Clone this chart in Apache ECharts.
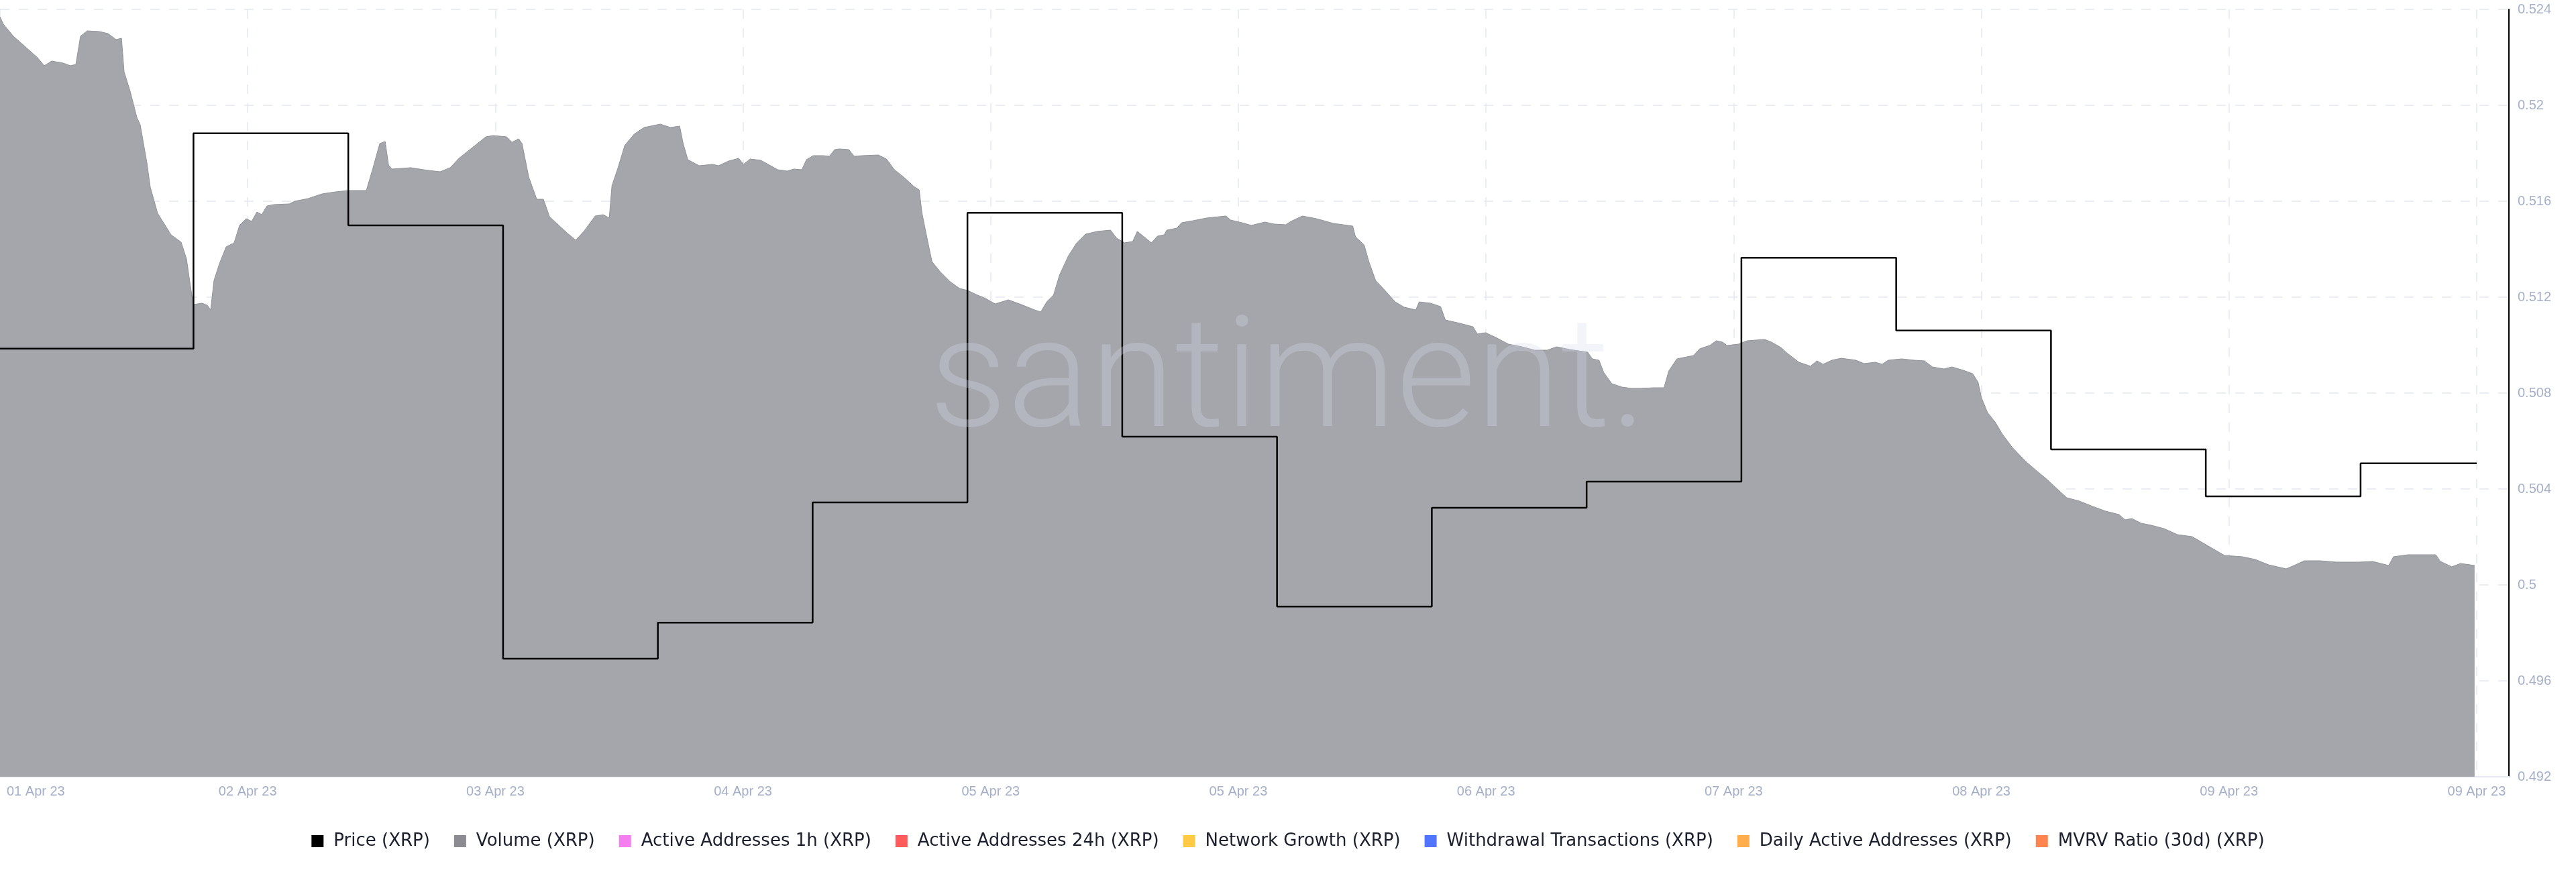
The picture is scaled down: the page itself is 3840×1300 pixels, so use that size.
<!DOCTYPE html>
<html>
<head>
<meta charset="utf-8">
<script src="https://cdn.jsdelivr.net/npm/echarts@6/dist/echarts.min.js"></script>
<style>
  html, body { margin: 0; padding: 0; background: #ffffff; }
  #chart { width: 3840px; height: 1300px; }
</style>
</head>
<body>
<div id="chart"></div>
<script>
// ---- X axis: hours since 01 Apr 2023 21:00, labelled every 19.2 h ----
const xTickLabels = ['01 Apr 23','02 Apr 23','03 Apr 23','04 Apr 23','05 Apr 23','05 Apr 23','06 Apr 23','07 Apr 23','08 Apr 23','09 Apr 23','09 Apr 23'];
const xTickStepHours = 19.2;
const xMaxHours = 194.5;

// ---- Price (XRP), 12-hourly ----
const priceHours  = [0, 15, 27, 39, 51, 63, 75, 87, 99, 111, 123, 135, 147, 159, 171, 183, 192];
const priceValues = [0.50985, 0.51883, 0.51499, 0.49692, 0.49843, 0.50344, 0.51552, 0.50618, 0.49910, 0.50322, 0.50431, 0.51364, 0.51061, 0.50565, 0.50369, 0.50507, 0.50507];
const priceTicks  = { min: 0.492, max: 0.524, interval: 0.004 };

// ---- Volume (XRP), relative units on a hidden axis ----
const volumeHours = [0,0.26,1.04,1.98,2.91,3.43,4.01,4.89,5.46,5.88,6.24,6.76,7.70,8.37,9.00,9.42,9.62,10.09,10.61,10.87,11.39,11.65,12.22,12.74,13.26,14.04,14.46,14.72,14.98,15.66,16.07,16.33,16.59,17.01,17.53,18.15,18.57,19.09,19.51,19.92,20.29,20.70,21.22,22.42,22.84,23.88,24.97,26.01,27.05,28.40,28.92,29.44,29.86,30.12,30.38,31.84,33.19,34.12,34.90,35.58,36.62,37.66,38.23,39.27,39.69,40.21,40.47,40.99,41.61,42.13,42.60,43.38,44.01,44.63,45.26,46.14,46.76,47.23,47.44,47.91,48.43,49.16,49.94,51.19,51.97,52.69,52.95,53.32,54.20,55.24,55.71,56.49,57.27,57.64,58.16,58.99,60.29,61.02,61.54,62.16,62.52,63.05,63.83,64.29,64.71,65.07,65.80,66.22,66.84,68.09,68.72,69.34,70.12,70.85,71.26,71.47,71.89,72.25,72.88,73.66,74.39,75.01,75.79,76.41,77.14,78.18,79.17,80.21,80.68,81.15,81.67,82.14,82.81,83.44,84.16,85.05,86.09,86.56,87.18,87.81,88.17,88.69,89.26,89.73,90.25,90.46,91.24,91.60,92.49,93.53,95.04,95.40,96.28,97.01,98.05,98.78,99.67,100.08,100.97,102.06,103.36,104.87,105.08,105.75,106.12,106.64,107.37,108.15,108.87,109.76,110.02,110.90,111.68,112.05,113.19,114.18,114.54,115.17,115.95,116.94,117.98,118.97,119.95,120.68,121.67,123.08,123.44,123.96,124.32,124.95,125.73,126.46,127.24,128.22,129.00,129.37,130.00,130.77,131.29,131.76,132.54,133.06,133.53,133.89,134.78,135.45,136.81,137.33,138.06,138.58,139.46,140.08,140.34,140.86,141.33,142.01,142.74,143.88,144.51,145.39,145.91,146.38,147.42,148.41,149.19,149.81,150.70,151.32,152.20,152.93,153.35,153.61,154.08,154.70,155.22,156.00,156.99,157.77,158.65,159.43,160.22,161.20,162.24,163.23,164.27,164.74,165.26,165.99,166.77,167.76,168.80,169.94,170.83,171.55,172.44,173.84,174.83,175.87,177.23,177.85,178.63,179.87,181.13,182.89,183.94,185.18,185.55,186.69,188.83,189.19,190.07,190.75,191.84];
const volumeValues = [2266,2244,2208,2176,2144,2120,2134,2128,2120,2124,2208,2224,2222,2216,2198,2202,2102,2044,1966,1944,1830,1758,1680,1648,1616,1594,1544,1474,1408,1412,1406,1392,1480,1530,1580,1592,1644,1664,1656,1684,1676,1702,1706,1708,1716,1724,1738,1744,1748,1748,1816,1888,1894,1824,1812,1816,1808,1804,1816,1844,1876,1908,1912,1908,1892,1902,1888,1788,1722,1722,1670,1642,1620,1600,1626,1672,1676,1666,1762,1816,1882,1916,1936,1946,1936,1940,1890,1840,1822,1826,1822,1836,1844,1826,1842,1838,1810,1806,1812,1810,1840,1852,1852,1850,1870,1872,1870,1850,1852,1854,1842,1810,1786,1760,1750,1682,1602,1536,1506,1476,1456,1450,1436,1426,1410,1422,1408,1392,1386,1416,1436,1496,1552,1590,1618,1626,1630,1606,1592,1596,1626,1610,1592,1612,1616,1630,1636,1652,1658,1666,1672,1660,1652,1644,1654,1648,1646,1656,1672,1664,1650,1642,1610,1586,1536,1480,1450,1416,1400,1392,1416,1412,1402,1362,1352,1342,1320,1324,1310,1290,1282,1272,1272,1282,1274,1266,1246,1242,1206,1172,1162,1158,1158,1160,1160,1210,1246,1252,1256,1276,1286,1300,1296,1286,1290,1300,1304,1296,1280,1262,1236,1228,1224,1240,1230,1242,1248,1242,1232,1236,1230,1242,1246,1242,1240,1222,1216,1222,1212,1202,1176,1130,1086,1056,1022,982,942,916,888,860,832,822,806,792,782,766,770,756,750,740,722,716,696,680,660,656,648,632,620,630,644,644,640,640,642,630,656,662,662,642,626,636,630];
const volumeAxisMax = 2288;

// ---- Legend entries without drawn data ----
const seriesNames  = ['Price (XRP)','Volume (XRP)','Active Addresses 1h (XRP)','Active Addresses 24h (XRP)','Network Growth (XRP)','Withdrawal Transactions (XRP)','Daily Active Addresses (XRP)','MVRV Ratio (30d) (XRP)'];
const seriesColors = ['#000000','#8b8b91','#f47ef0','#ff5b5b','#ffcb47','#5275ff','#ffad4d','#ff8450'];
const emptySeriesData = [];

const priceData  = priceHours.map((h, i) => [h, priceValues[i]]);
const volumeData = volumeHours.map((h, i) => [h, volumeValues[i]]);
const latestPrice = priceValues[priceValues.length - 1];

const chart = echarts.init(document.getElementById('chart'), null, { renderer: 'canvas' });

const axisFont = "'Liberation Sans', Arial, Helvetica, sans-serif";
const labelColor = '#a5afc8';
const gridColor = '#e5e8f2';

const series = [
  {
    name: seriesNames[1], type: 'line', xAxisIndex: 0, yAxisIndex: 1,
    data: volumeData, symbol: 'none', color: seriesColors[1],
    lineStyle: { color: '#929398', width: 1 },
    areaStyle: { color: '#a5a6ab', opacity: 1 },
    z: 1, silent: true
  },
  {
    name: seriesNames[0], type: 'line', xAxisIndex: 0, yAxisIndex: 0,
    data: priceData, step: 'end', symbol: 'none', color: seriesColors[0],
    lineStyle: { color: '#000000', width: 2.5 },
    z: 5,
    markLine: {
      silent: true, symbol: ['none','none'], animation: false,
      lineStyle: { opacity: 0 },
      data: [{ yAxis: latestPrice }],
      label: {
        show: true, position: 'end', distance: 6,
        formatter: () => latestPrice.toFixed(3),
        backgroundColor: '#000000', color: '#ffffff',
        fontFamily: axisFont, fontSize: 20, padding: [3, 6, 2, 6]
      }
    }
  }
];
for (let i = 2; i < seriesNames.length; i++) {
  series.push({ name: seriesNames[i], type: 'line', data: emptySeriesData, color: seriesColors[i], symbol: 'none' });
}

chart.setOption({
  animation: false,
  backgroundColor: '#ffffff',
  grid: { left: 0, right: 100, top: 14, bottom: 142, containLabel: false, outerBoundsMode: 'none' },
  graphic: [{
    type: 'text', left: 1385, top: 462, z: 10, silent: true,
    style: {
      text: 'santiment.', fontSize: 230, fontWeight: 300,
      fontFamily: "Roboto, 'Open Sans', sans-serif",
      fill: 'rgba(214,218,238,0.3)'
    }
  }],
  legend: {
    data: seriesNames, top: 1236, left: 'center',
    icon: 'rect', itemWidth: 18, itemHeight: 18, itemGap: 36,
    selectedMode: false,
    textStyle: { fontFamily: "'DejaVu Sans', sans-serif", fontSize: 26, color: '#1c1f2e', padding: [0, 0, 0, 10] }
  },
  xAxis: {
    type: 'value', min: 0, max: xMaxHours, interval: xTickStepHours,
    axisLine: { show: true, onZero: false, lineStyle: { color: gridColor, width: 2 } },
    axisTick: { show: false },
    splitLine: { show: true, lineStyle: { color: gridColor, type: [14, 14], width: 1.5 } },
    axisLabel: {
      margin: 12, color: labelColor, fontFamily: axisFont, fontSize: 20,
      showMaxLabel: false, hideOverlap: false, alignMinLabel: 'left',
      formatter: (v) => {
        const idx = Math.round(v / xTickStepHours);
        if (Math.abs(v - idx * xTickStepHours) > 0.01 || idx >= xTickLabels.length) return '';
        return idx === 0 ? '{first|' + xTickLabels[idx] + '}' : xTickLabels[idx];
      },
      rich: { first: { padding: [0, 0, 0, 10], color: labelColor, fontFamily: axisFont, fontSize: 20 } }
    }
  },
  yAxis: [
    {
      type: 'value', position: 'right',
      min: priceTicks.min, max: priceTicks.max, interval: priceTicks.interval,
      axisLine: { show: true, onZero: false, lineStyle: { color: '#000000', width: 2 } },
      axisTick: { show: false },
      splitLine: { show: true, lineStyle: { color: gridColor, type: [14, 14], width: 1.5 } },
      axisLabel: { margin: 13, color: labelColor, fontFamily: axisFont, fontSize: 20,
        formatter: (v) => String(parseFloat(v.toFixed(3))) }
    },
    {
      type: 'value', position: 'left', min: 0, max: volumeAxisMax, show: false,
      axisLine: { show: false }, axisTick: { show: false }, axisLabel: { show: false },
      splitLine: { show: false }
    }
  ],
  series: series
});
</script>
</body>
</html>
